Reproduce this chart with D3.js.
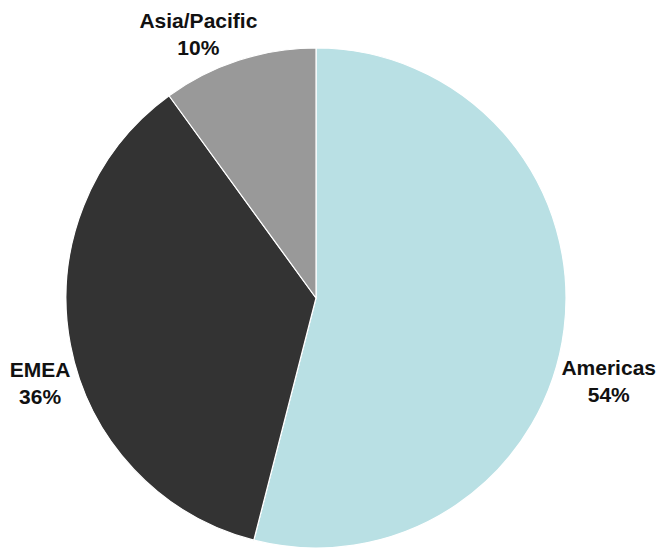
<!DOCTYPE html>
<html><head><meta charset="utf-8">
<script src="https://cdn.jsdelivr.net/npm/d3@7"></script>
<style>body{margin:0;background:#fff;}text{font-family:"Liberation Sans",Arial,sans-serif;font-weight:bold;font-size:21px;fill:#111;}</style>
</head><body>
<svg id="c" width="658" height="550"></svg>
<script>
const categories = ["Americas", "EMEA", "Asia/Pacific"];
const values = [54, 36, 10];
const colors = ["#b9e0e4", "#333333", "#999999"];

const svg = d3.select("#c");
const cx = 316, cy = 298, r = 250;
const g = svg.append("g").attr("transform", `translate(${cx},${cy})`);
const data = categories.map((c, i) => ({ name: c, value: values[i], color: colors[i] }));
const pie = d3.pie().value(d => d.value).sort(null);
const arcs = pie(data);
const arc = d3.arc().innerRadius(0).outerRadius(r);
g.selectAll("path").data(arcs).join("path")
  .attr("d", arc).attr("fill", d => d.data.color)
  .attr("stroke", "#fff").attr("stroke-width", 1.2);

// label placement: point outside arc at mid angle, plus layout nudges
const nudges = { "Americas": [5, 47], "EMEA": [9, 31], "Asia/Pacific": [-28, 12] };
const labelR = r + 40;
arcs.forEach(a => {
  const m = (a.startAngle + a.endAngle) / 2;
  const n = nudges[a.data.name];
  const x = Math.sin(m) * labelR + n[0];
  const y = -Math.cos(m) * labelR + n[1];
  const t = g.append("text").attr("text-anchor", "middle").attr("transform", `translate(${x},${y})`);
  t.append("tspan").attr("x", 0).attr("y", -6).text(a.data.name);
  t.append("tspan").attr("x", 0).attr("y", 21).text(a.data.value + "%");
});
</script>
</body></html>
